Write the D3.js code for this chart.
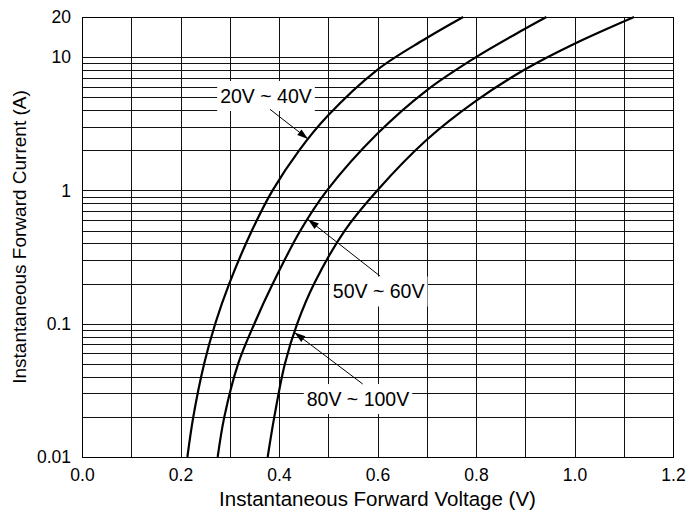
<!DOCTYPE html>
<html>
<head>
<meta charset="utf-8">
<script src="https://cdn.jsdelivr.net/npm/d3@7"></script>
<style>
  html, body { margin: 0; padding: 0; background: #fff; }
  svg { display: block; font-family: "Liberation Sans", Arial, sans-serif; }
</style>
</head>
<body>
<svg id="chart" width="689" height="517"></svg>
<script>
// ---- data ----
const xTicks = [0.0, 0.2, 0.4, 0.6, 0.8, 1.0, 1.2];
const xTickLabels = ["0.0", "0.2", "0.4", "0.6", "0.8", "1.0", "1.2"];
const xGrid = [0.1, 0.2, 0.3, 0.4, 0.5, 0.6, 0.7, 0.8, 0.9, 1.0, 1.1];
const yTicks = [0.01, 0.1, 1, 10, 20];
const yTickLabels = ["0.01", "0.1", "1", "10", "20"];
const yDecades = [0.01, 0.1, 1, 10];
const yMultipliers = [1, 2, 3, 4, 5, 6, 7, 8, 9];

const seriesNames = ["20V ~ 40V", "50V ~ 60V", "80V ~ 100V"];
// Voltage (V) and current (A) pairs for each curve
const v20_40 = [0.214, 0.226, 0.248, 0.2705, 0.299, 0.345, 0.387, 0.441, 0.498, 0.599, 0.694, 0.774];
const i20_40 = [0.01, 0.02, 0.05, 0.1, 0.2, 0.5, 1, 2, 3.6, 8, 13.5, 20];
const v50_60 = [0.2755, 0.289, 0.317, 0.350, 0.3875, 0.4435, 0.4975, 0.5995, 0.700, 0.800, 0.896, 0.943];
const i50_60 = [0.01, 0.02, 0.05, 0.1, 0.2, 0.5, 1, 2.66, 5.64, 10, 16.05, 20];
const v80_100 = [0.377, 0.3905, 0.412, 0.437, 0.4715, 0.5335, 0.5995, 0.700, 0.800, 0.900, 1.000, 1.121];
const i80_100 = [0.01, 0.02, 0.05, 0.1, 0.2, 0.5, 1, 2.4, 4.7, 8.1, 12.6, 20];

// annotation anchors in data units: label centre, arrow start, arrow tip
const labelV = [0.3736, 0.6024, 0.5604];
const labelI = [5.11, 0.1744, 0.0272];
const arrowFromV = [0.3817, 0.605, 0.570];
const arrowFromI = [4.06, 0.228, 0.0353];
const arrowToV = [0.459, 0.459, 0.4315];
const arrowToI = [2.43, 0.605, 0.0859];

const xTitle = "Instantaneous Forward Voltage (V)";
const yTitle = "Instantaneous Forward Current (A)";

// ---- layout ----
const svg = d3.select("#chart");
const margin = { left: 82, right: 16, top: 17, bottom: 60 };
const W = 689, H = 517;
const x = d3.scaleLinear().domain([0, 1.2]).range([margin.left, W - margin.right]);
const y = d3.scaleLog().domain([0.01, 20]).range([H - margin.bottom, margin.top]);

const series = [
  { name: seriesNames[0], v: v20_40, i: i20_40 },
  { name: seriesNames[1], v: v50_60, i: i50_60 },
  { name: seriesNames[2], v: v80_100, i: i80_100 }
];

// grid
const gGrid = svg.append("g").attr("shape-rendering", "crispEdges");
const hLines = [];
yDecades.forEach(d => yMultipliers.forEach(m => { const val = d * m; if (val < 20) hLines.push(val); }));
gGrid.selectAll("line.h").data(hLines).join("line")
  .attr("x1", x(0)).attr("x2", x(1.2))
  .attr("y1", d => Math.round(y(d)) + 0.5).attr("y2", d => Math.round(y(d)) + 0.5)
  .attr("stroke", "#111").attr("stroke-width", 1);
gGrid.selectAll("line.v").data(xGrid).join("line")
  .attr("x1", d => Math.round(x(d)) + 0.5).attr("x2", d => Math.round(x(d)) + 0.5)
  .attr("y1", y(20)).attr("y2", y(0.01))
  .attr("stroke", "#111").attr("stroke-width", 1);
gGrid.append("rect")
  .attr("x", x(0) + 0.5).attr("y", y(20) + 0.5)
  .attr("width", x(1.2) - x(0)).attr("height", y(0.01) - y(20))
  .attr("fill", "none").attr("stroke", "#000").attr("stroke-width", 1);

// curves
const line = d3.line().curve(d3.curveCatmullRom.alpha(0.5));
svg.append("g").selectAll("path").data(series).join("path")
  .attr("d", s => line(s.v.map((v, k) => [x(v), y(s.i[k])])))
  .attr("fill", "none").attr("stroke", "#000").attr("stroke-width", 2.2);

// axes (tick labels only)
const xAxis = d3.axisBottom(x).tickValues(xTicks).tickFormat((d, k) => xTickLabels[k]).tickSize(0).tickPadding(12);
const gx = svg.append("g").attr("transform", `translate(0,${y(0.01)})`).call(xAxis);
gx.select(".domain").remove();
gx.selectAll("text").attr("font-size", 17.5).attr("font-family", "Liberation Sans, Arial, sans-serif").attr("fill", "#000");

const yAxis = d3.axisLeft(y).tickValues(yTicks).tickFormat((d, k) => yTickLabels[k]).tickSize(0).tickPadding(11);
const gy = svg.append("g").attr("transform", `translate(${x(0)},0)`).call(yAxis);
gy.select(".domain").remove();
gy.selectAll("text").attr("font-size", 17.5).attr("font-family", "Liberation Sans, Arial, sans-serif").attr("fill", "#000");

// titles
svg.append("text").attr("x", (x(0) + x(1.2)) / 2).attr("y", 506)
  .attr("text-anchor", "middle").attr("font-size", 20.5).text(xTitle);
svg.append("text").attr("transform", `translate(26,${(y(20) + y(0.01)) / 2}) rotate(-90)`)
  .attr("text-anchor", "middle").attr("font-size", 19).text(yTitle);

// annotations
const gAnn = svg.append("g");
series.forEach((s, k) => {
  const cx = x(labelV[k]), cy = y(labelI[k]);
  const t = gAnn.append("text").attr("x", cx).attr("y", cy).attr("dy", "0.35em")
    .attr("text-anchor", "middle").attr("font-size", 19.5).text(s.name);
  const bb = t.node().getBBox();
  gAnn.insert("rect", "text").attr("x", bb.x - 3).attr("y", cy - 15)
    .attr("width", bb.width + 6).attr("height", 30).attr("fill", "#fff");
  // arrow
  const x1 = x(arrowFromV[k]), y1 = y(arrowFromI[k]);
  const x2 = x(arrowToV[k]), y2 = y(arrowToI[k]);
  gAnn.append("line").attr("x1", x1).attr("y1", y1).attr("x2", x2).attr("y2", y2)
    .attr("stroke", "#000").attr("stroke-width", 1);
  const ang = Math.atan2(y2 - y1, x2 - x1);
  const L = 11, w = 3.5;
  const bx = x2 - L * Math.cos(ang), by = y2 - L * Math.sin(ang);
  const px = -Math.sin(ang) * w, py = Math.cos(ang) * w;
  gAnn.append("path")
    .attr("d", `M${x2},${y2}L${bx + px},${by + py}L${bx - px},${by - py}Z`)
    .attr("fill", "#000");
});
</script>
</body>
</html>
